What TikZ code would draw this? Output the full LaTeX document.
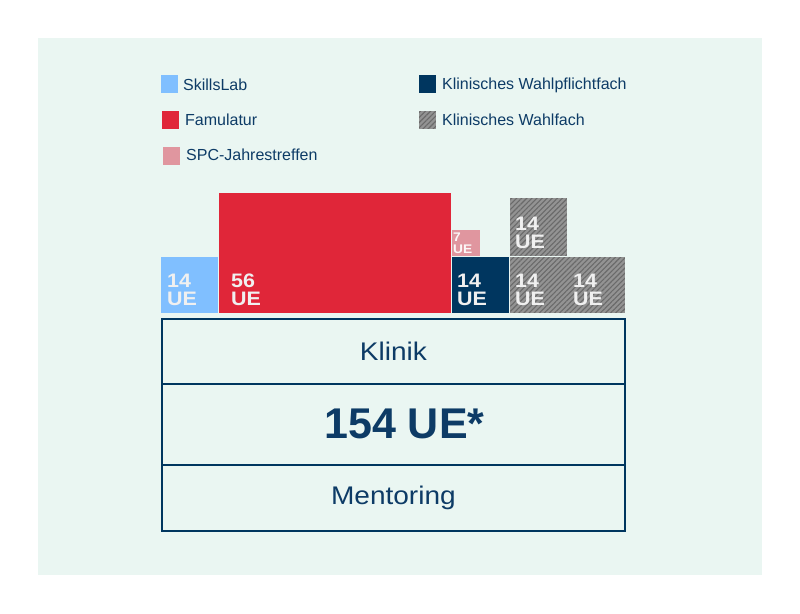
\documentclass[tikz,border=0pt]{standalone}
\usepackage{fontspec}
\setmainfont{Liberation Sans}
\newfontfamily\widefont[FakeStretch=1.1]{Liberation Sans}
\newfontfamily\lblfont[FakeStretch=1.1]{Liberation Sans Bold}
\usetikzlibrary{patterns.meta}
\definecolor{bgc}{HTML}{EAF6F2}
\definecolor{navy}{HTML}{00365F}
\definecolor{txt}{HTML}{0D3B66}
\definecolor{skill}{HTML}{80BFFF}
\definecolor{famu}{HTML}{E02639}
\definecolor{spc}{HTML}{E0969F}
\definecolor{hbase}{HTML}{939393}
\definecolor{hline}{HTML}{6A6A6A}
\tikzset{
  blockbox/.style={rectangle, draw=bgc, line width=0.7pt, inner sep=0pt, anchor=north west},
  hatched/.style={preaction={fill=hbase}, pattern={Lines[angle=45,distance=3.6pt,line width=1.1pt]}, pattern color=hline},
  lbl/.style={text=white!94!black, font=\lblfont\fontsize{19.5}{18}\selectfont, align=left, inner sep=0pt, anchor=south west},
  slbl/.style={text=white!92!spc, font=\lblfont\fontsize{12.5}{12}\selectfont, align=left, inner sep=0pt, anchor=south west},
  legsq/.style={rectangle, draw=bgc, line width=0.7pt, inner sep=0pt, minimum width=18pt, minimum height=19pt, anchor=north west},
  legtxt/.style={text=txt, font=\fontsize{16}{19}\selectfont, inner sep=0pt, anchor=base west},
  row/.style={rectangle, draw=navy, line width=1.8pt, minimum width=463pt, inner sep=0pt, anchor=north west, text=txt},
}
\begin{document}
\begin{tikzpicture}[x=1pt,y=-1pt]
\useasboundingbox (0,0) rectangle (800,613);
\fill[bgc] (38,38) rectangle (762,575);
% legend
\node[legsq, fill=skill] (ls) at (160,74) {};
\node[legtxt] (lst) at (183,90) {SkillsLab};
\node[legsq, fill=famu] (lf) at (161,110) {};
\node[legtxt] (lft) at (185,125) {Famulatur};
\node[legsq, fill=spc] (lp) at (162,146) {};
\node[legtxt] (lpt) at (186,160) {SPC-Jahrestreffen};
\node[legsq, fill=navy] (lw) at (418,74) {};
\node[legtxt] (lwt) at (442,89) {Klinisches Wahlpflichtfach};
\node[legsq, hatched] (lh) at (418,110) {};
\node[legtxt] (lht) at (442,125) {Klinisches Wahlfach};
% blocks
\node[blockbox, fill=skill, minimum width=58pt, minimum height=57pt] (sk) at (160,256) {};
\node[blockbox, fill=famu, minimum width=233pt, minimum height=121pt] (fa) at (218,192) {};
\node[blockbox, fill=spc, minimum width=29pt, minimum height=27pt] (sp) at (451,229) {};
\node[blockbox, fill=navy, minimum width=58pt, minimum height=57pt] (wp) at (451,256) {};
\node[blockbox, hatched, minimum width=58pt, minimum height=59pt] (wt) at (509,197) {};
\node[blockbox, hatched, minimum width=116pt, minimum height=57pt] (wb) at (509,256) {};
% block labels
\node[lbl] (skl) at ([shift={(7pt,8pt)}]sk.south west) {14\\UE};
\node[lbl] (fal) at ([shift={(13pt,8pt)}]fa.south west) {56\\UE};
\node[slbl] (spl) at ([shift={(2pt,3pt)}]sp.south west) {7\\UE};
\node[lbl] (wpl) at ([shift={(6pt,8pt)}]wp.south west) {14\\UE};
\node[lbl] (wtl) at ([shift={(6pt,8pt)}]wt.south west) {14\\UE};
\node[lbl] (wbl1) at ([shift={(6pt,8pt)}]wb.south west) {14\\UE};
\node[lbl] (wbl2) at ([shift={(64pt,8pt)}]wb.south west) {14\\UE};
% main box
\node[row, minimum height=65pt, font=\widefont\fontsize{25.5}{30}\selectfont] (kl) at (161,318) {Klinik};
\node[row, minimum height=81pt, font=\fontsize{43}{50}\selectfont\bfseries] (ue) at (161,383) {\hspace*{22pt}154 UE*};
\node[row, minimum height=66pt, font=\widefont\fontsize{25.5}{30}\selectfont] (me) at (161,464) {Mentoring};
\end{tikzpicture}
\end{document}
